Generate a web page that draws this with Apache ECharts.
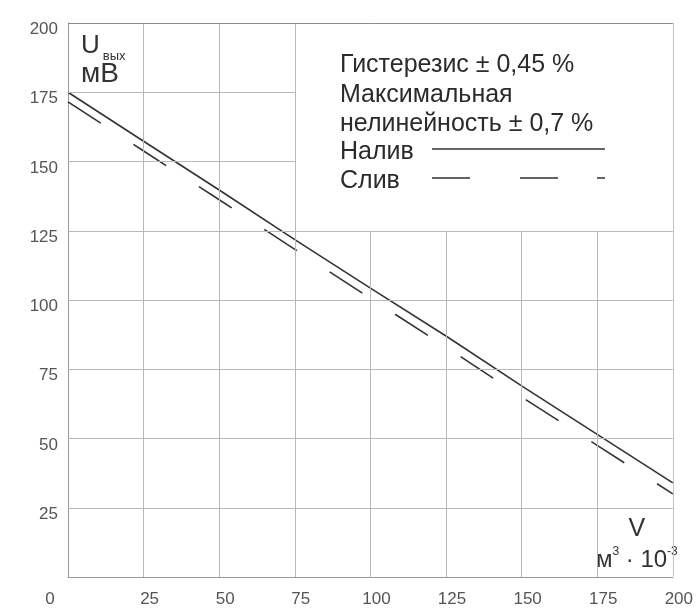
<!DOCTYPE html>
<html>
<head>
<meta charset="utf-8">
<script src="https://cdn.jsdelivr.net/npm/echarts@6/dist/echarts.min.js"></script>
<style>
  html, body { margin: 0; padding: 0; background: #fff; }
  #chart { width: 696px; height: 608px; }
</style>
</head>
<body>
<div id="chart"></div>
<script>
// Volume, m³·10⁻³
const volume = [0, 25, 50, 75, 100, 125, 150, 175, 200];
// Output voltage while filling (Налив), mV
const fillVoltage = [175, 157.3, 139.7, 121.8, 104.3, 87, 69, 51.5, 34];
// Output voltage while draining (Слив), mV
const drainVoltage = [171.5, 153.8, 136.2, 118.3, 100.6, 83, 65, 47.5, 30];
// Axis ticks
const xTicks = [0, 25, 50, 75, 100, 125, 150, 175, 200];
const yTicks = [0, 25, 50, 75, 100, 125, 150, 175, 200];
// Notes text
const notes = ['Гистерезис ± 0,45 %', 'Максимальная', 'нелинейность ± 0,7 %'];
const seriesNames = ['Налив', 'Слив'];

// Grid is left blank behind the notes panel (upper right corner)
const panelFromX = 75, panelFromY = 125;
const xMax = 200, yMax = 200;

const lineColor = '#333';
const lineWidth = 1.6;
const dashPattern = [39, 39];
const gridColor = '#b8b8b8';
const font = 'Liberation Sans, Arial, Helvetica, sans-serif';

const gridSegments = [];
xTicks.forEach(x => {
  if (x === 0) return;
  const top = (x > panelFromX && x < xMax) ? panelFromY : yMax;
  gridSegments.push([{ coord: [x, 0] }, { coord: [x, top],
    lineStyle: { color: x === xMax ? '#c4c4c4' : gridColor } }]);
});
yTicks.forEach(y => {
  if (y === 0) return;
  const right = (y > panelFromY && y < yMax) ? panelFromX : xMax;
  gridSegments.push([{ coord: [0, y] }, { coord: [right, y],
    lineStyle: { color: y === yMax ? '#8c8c8c' : gridColor } }]);
});

const chart = echarts.init(document.getElementById('chart'), null, { renderer: 'canvas' });

// Notes panel: text rows and legend samples
const legendLeft = 340;
const sampleX0 = 432, sampleX1 = 605;
const rowY = [65, 95, 124, 152, 181];

const graphics = [];
notes.concat(seriesNames).forEach((t, i) => {
  graphics.push({ type: 'text', x: legendLeft, y: rowY[i],
    style: { text: t, font: '25px ' + font, fill: '#2b2b2b', verticalAlign: 'middle' } });
});
graphics.push({ type: 'line', shape: { x1: sampleX0, y1: rowY[3] - 3, x2: sampleX1, y2: rowY[3] - 3 },
  style: { stroke: lineColor, lineWidth: lineWidth } });
graphics.push({ type: 'line', shape: { x1: sampleX0, y1: rowY[4] - 3, x2: sampleX1, y2: rowY[4] - 3 },
  style: { stroke: lineColor, lineWidth: lineWidth, lineDash: [38, 50, 38, 39] } });

chart.setOption({
  animation: false,
  backgroundColor: '#fff',
  grid: { left: 68, right: 19, top: 23, bottom: 31, containLabel: false },
  graphic: graphics,
  xAxis: {
    type: 'value', min: 0, max: xMax, interval: 25,
    axisLine: { show: true, lineStyle: { color: '#9a9a9a', width: 1 } },
    axisTick: { show: false },
    splitLine: { show: false },
    axisLabel: {
      color: '#555', fontSize: 17, fontFamily: font, margin: 14,
      padding: [0, 0, 0, 12],
      formatter: v => v === 0 ? '{o|0}' : String(v),
      rich: { o: { color: '#555', fontSize: 17, fontFamily: font, padding: [0, 48, 0, 0] } }
    },
    name: '{v|V}\n{m|м}{sup|3}{m| · 10}{sup|-3}',
    nameLocation: 'end',
    nameGap: -36,
    nameTextStyle: {
      align: 'center', verticalAlign: 'bottom', padding: [0, 0, 5, 0],
      rich: {
        v: { fontSize: 25, fontFamily: font, color: '#333', lineHeight: 33 },
        m: { fontSize: 24, fontFamily: font, color: '#333', lineHeight: 26, verticalAlign: 'bottom' },
        sup: { fontSize: 12, fontFamily: font, color: '#333', lineHeight: 26, verticalAlign: 'top', padding: [0, 0, 12, 0] }
      }
    }
  },
  yAxis: {
    type: 'value', min: 0, max: yMax, interval: 25,
    axisLine: { show: true, lineStyle: { color: '#9a9a9a', width: 1 } },
    axisTick: { show: false },
    splitLine: { show: false },
    axisLabel: {
      color: '#555', fontSize: 17, fontFamily: font, margin: 10,
      verticalAlign: 'top', lineHeight: 13,
      formatter: v => v === 0 ? '' : String(v)
    },
    name: '{u|U}{s|вых}\n{m|мВ}',
    nameLocation: 'end',
    nameGap: -8,
    nameTextStyle: {
      align: 'left', verticalAlign: 'top', padding: [0, 0, 0, 13],
      rich: {
        u: { fontSize: 26, fontFamily: font, color: '#333', lineHeight: 28, verticalAlign: 'bottom' },
        s: { fontSize: 13, fontFamily: font, color: '#333', lineHeight: 28, verticalAlign: 'bottom', padding: [0, 0, -4, 3] },
        m: { fontSize: 28, fontFamily: font, color: '#333', lineHeight: 30 }
      }
    }
  },
  series: [
    {
      name: 'grid', type: 'line', data: [], silent: true, z: 1,
      markLine: {
        silent: true, symbol: ['none', 'none'], label: { show: false },
        lineStyle: { color: gridColor, width: 1, type: 'solid' },
        animation: false,
        data: gridSegments
      }
    },
    {
      name: seriesNames[0], type: 'line', z: 3, symbol: 'none',
      data: volume.map((v, i) => [v, fillVoltage[i]]),
      lineStyle: { color: lineColor, width: lineWidth, type: 'solid' }
    },
    {
      name: seriesNames[1], type: 'line', z: 3, symbol: 'none',
      data: volume.map((v, i) => [v, drainVoltage[i]]),
      lineStyle: { color: lineColor, width: lineWidth, type: dashPattern, dashOffset: 0 }
    }
  ]
});
</script>
</body>
</html>
